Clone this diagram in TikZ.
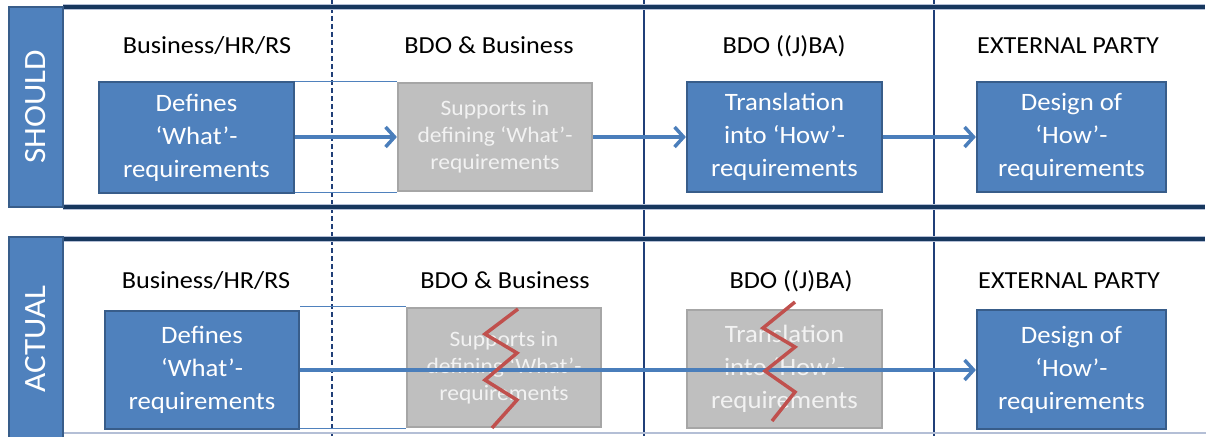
\documentclass[tikz,border=0pt]{standalone}
\usepackage{fontspec}
\setmainfont{Carlito}[FakeStretch=1.07]
\usetikzlibrary{arrows.meta}

\definecolor{boxblue}{HTML}{4F81BD}
\definecolor{boxedge}{HTML}{385D8A}
\definecolor{greyfill}{HTML}{BFBFBF}
\definecolor{greyedge}{HTML}{A6A6A6}
\definecolor{greytext}{HTML}{F2F2F2}
\definecolor{navy}{HTML}{17375E}
\definecolor{navyhalo}{HTML}{B4BFD6}
\definecolor{gridblue}{HTML}{203F78}
\definecolor{linkblue}{HTML}{4F81BD}
\definecolor{flowblue}{HTML}{4A7EBB}
\definecolor{breakred}{HTML}{C0504D}

\tikzset{
  bluebox/.style={draw=boxedge, fill=boxblue, line width=2.2pt, text=white,
    align=center, inner sep=0pt, font=\fontsize{25}{33}\selectfont},
  greybox/.style={draw=greyedge, fill=greyfill, line width=2.2pt, text=greytext,
    align=center, inner sep=0pt, font=\fontsize{22}{27}\selectfont},
  lanehead/.style={anchor=base, inner sep=0pt, text=black,
    font=\fontsize{24.5}{30}\selectfont},
  bandtag/.style={draw=boxedge, fill=boxblue, line width=2.2pt, text=white,
    rotate=90, inner sep=0pt, font=\fontsize{31}{36}\selectfont},
  laneline/.style={draw=gridblue, line width=1.1pt},
  lanedash/.style={draw=gridblue, line width=1.1pt, dash pattern=on 5pt off 3pt},
  bandhalo/.style={draw=navyhalo, line width=5.5pt},
  bandrule/.style={draw=navy, line width=3.2pt},
  link/.style={draw=linkblue, line width=0.9pt},
  flow/.style={draw=flowblue, line width=3.5pt, -{Straight Barb[length=9pt,width=20pt]}},
  breakline/.style={draw=breakred, line width=3.5pt, line join=miter},
}

\begin{document}
\begin{tikzpicture}[x=1pt, y=-1pt]
  \useasboundingbox (0,0) rectangle (1206,436);
  \clip (0,0) rectangle (1206,436);
  \fill[white] (0,0) rectangle (1206,436);

  % lane separators
  \draw[lanedash] (332,0) -- (332,436);
  \draw[laneline] (644,0) -- (644,436);
  \draw[laneline] (934,0) -- (934,436);

  % band rules
  \foreach \yy in {7,207,239} {
    \draw[bandhalo] (63,\yy) -- (1205,\yy);
    \draw[bandrule] (63,\yy) -- (1205,\yy);
  }
  \draw[draw=navyhalo, line width=2pt] (63,433) -- (1206,433);

  % band tags
  \node[bandtag, minimum width=200pt, minimum height=54pt] (should) at (36,107) {SHOULD};
  \node[bandtag, minimum width=204pt, minimum height=54pt] (actual) at (36,339) {ACTUAL};

  % lane headers
  \node[lanehead] (h11) at (207,53) {Business/HR/RS};
  \node[lanehead] (h12) at (489,53) {BDO \& Business};
  \node[lanehead] (h13) at (784,53) {BDO ((J)BA)};
  \node[lanehead] (h14) at (1068,53) {EXTERNAL PARTY};
  \node[lanehead] (h21) at (206,288) {Business/HR/RS};
  \node[lanehead] (h22) at (505,288) {BDO \& Business};
  \node[lanehead] (h23) at (791,288) {BDO ((J)BA)};
  \node[lanehead] (h24) at (1069,288) {EXTERNAL PARTY};

  % SHOULD row
  \node[bluebox, minimum width=195pt, minimum height=111pt] (def1) at (196.5,137.5)
    {Defines\\‘What’-\\requirements};
  \node[greybox, minimum width=194pt, minimum height=108pt] (sup1) at (495,137)
    {Supports in\\defining ‘What’-\\requirements};
  \node[bluebox, minimum width=195pt, minimum height=110pt] (tr1) at (784.5,137)
    {Translation\\into ‘How’-\\requirements};
  \node[bluebox, minimum width=189pt, minimum height=110pt] (des1) at (1071.5,137)
    {Design of\\‘How’-\\requirements};

  \draw[link] (def1.east |- sup1.north) -- (sup1.north west);
  \draw[link] (def1.east |- sup1.south) -- (sup1.south west);

  \draw[flow] (def1.east |- sup1.west) -- (sup1.west);
  \draw[flow] (sup1.east) -- (tr1.west |- sup1.east);
  \draw[flow] (tr1.east) -- (des1.west);

  % ACTUAL row
  \node[bluebox, minimum width=194pt, minimum height=118pt] (def2) at (202,370)
    {Defines\\‘What’-\\requirements};
  \node[greybox, minimum width=194pt, minimum height=119pt] (sup2) at (504,367.5)
    {Supports in\\defining ‘What’-\\requirements};
  \node[greybox, font=\fontsize{25}{33}\selectfont, minimum width=195pt, minimum height=118pt] (tr2) at (784.5,369)
    {Translation\\into ‘How’-\\requirements};
  \node[bluebox, minimum width=189pt, minimum height=119pt] (des2) at (1071.5,369.5)
    {Design of\\‘How’-\\requirements};

  \draw[link] (def2.east |- sup2.north) -- (sup2.north west);
  \draw[link] (def2.east |- sup2.south) -- (sup2.south west);

  \draw[flow] (def2.east) -- (des2.west |- def2.east);

  % broken steps
  \draw[breakline] (518,309) -- (485,334) -- (517,353) -- (485,380) -- (517,400) -- (492,428);
  \draw[breakline] (795,302) -- (763,328) -- (795,347) -- (765,371) -- (795,392) -- (772,421);
\end{tikzpicture}
\end{document}
